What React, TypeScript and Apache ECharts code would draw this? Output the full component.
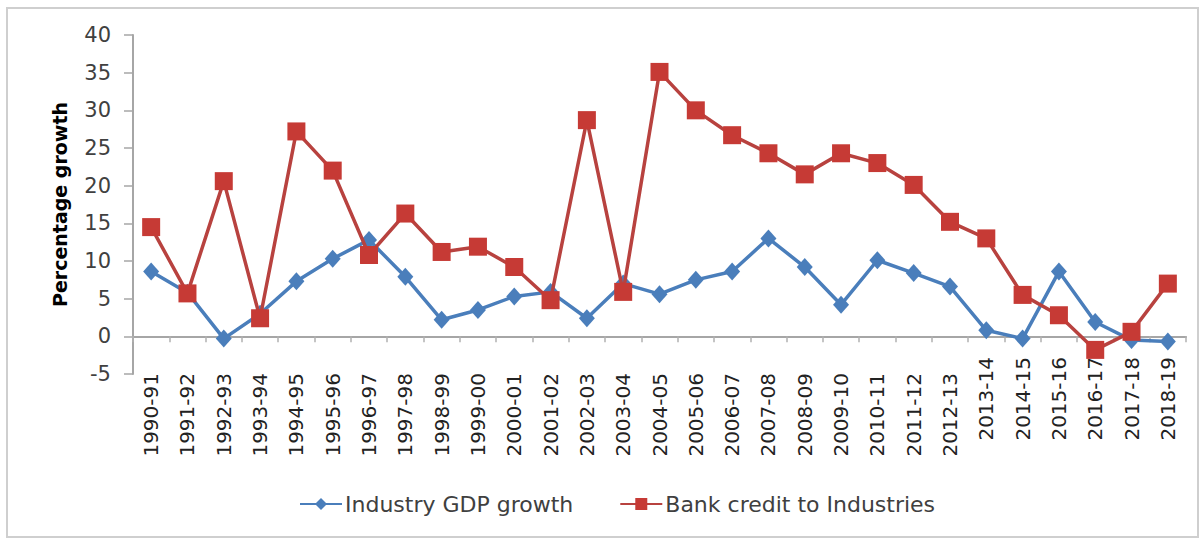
import React, { useEffect, useRef } from "react";
import * as echarts from "echarts";

const categories = [
  "1990-91", "1991-92", "1992-93", "1993-94", "1994-95", "1995-96", "1996-97",
  "1997-98", "1998-99", "1999-00", "2000-01", "2001-02", "2002-03", "2003-04",
  "2004-05", "2005-06", "2006-07", "2007-08", "2008-09", "2009-10", "2010-11",
  "2011-12", "2012-13", "2013-14", "2014-15", "2015-16", "2016-17", "2017-18",
  "2018-19",
];

const industryGdpGrowth = [
  8.6, 5.8, -0.3, 3.0, 7.3, 10.3, 12.8, 7.9, 2.2, 3.5, 5.3, 5.9, 2.4, 7.0,
  5.6, 7.5, 8.6, 13.0, 9.2, 4.2, 10.1, 8.4, 6.6, 0.8, -0.3, 8.6, 1.9, -0.5,
  -0.7,
];

const bankCreditToIndustries = [
  14.5, 5.7, 20.6, 2.4, 27.2, 22.0, 10.8, 16.3, 11.2, 11.9, 9.2, 4.8, 28.7,
  5.9, 35.1, 30.0, 26.7, 24.3, 21.5, 24.3, 23.0, 20.1, 15.2, 13.0, 5.5, 2.8,
  -1.8, 0.6, 7.0,
];

const yTicks = { min: -5, max: 40, interval: 5 };

export default function App() {
  const ref = useRef<HTMLDivElement>(null);
  useEffect(() => {
    if (!ref.current) return;
    const chart = echarts.init(ref.current, null, { renderer: "svg" });
    const font = "DejaVu Sans";
    chart.setOption({
      animation: false,
      backgroundColor: "#ffffff",
      graphic: [
        {
          type: "rect",
          shape: { x: 7, y: 8, width: 1191, height: 529 },
          style: { fill: "none", stroke: "#cfcfcf", lineWidth: 2 },
          silent: true,
        },
      ],
      grid: { left: 133, right: 18, top: 35, bottom: 165 },
      legend: {
        left: 294,
        top: 488,
        itemWidth: 42,
        itemHeight: 15,
        itemGap: 46,
        textStyle: { fontFamily: font, fontSize: 22, color: "#404040", padding: [0, 0, 0, -2] },
        data: ["Industry GDP growth", "Bank credit to Industries"],
      },
      xAxis: {
        type: "category",
        data: categories,
        boundaryGap: true,
        axisLine: { onZero: true, lineStyle: { color: "#a6a6a6", width: 2 } },
        axisTick: { show: true, length: 6, alignWithLabel: false, lineStyle: { color: "#b0b0b0", width: 1.5 } },
        axisLabel: {
          interval: 0,
          rotate: 90,
          margin: -17,
          formatter: (v: string, i: number) => (i >= 23 ? `{a|${v}}` : `{b|${v}}`),
          rich: {
            a: { fontFamily: font, fontSize: 20, color: "#222" },
            b: { fontFamily: font, fontSize: 20, color: "#222", padding: [0, 16, 0, 0] },
          },
        },
        splitLine: { show: false },
      },
      yAxis: {
        type: "value",
        min: yTicks.min,
        max: yTicks.max,
        interval: yTicks.interval,
        name: "Percentage growth",
        nameLocation: "middle",
        nameRotate: 90,
        nameGap: 64,
        nameTextStyle: { fontFamily: font, fontSize: 19, fontWeight: "bold", color: "#000" },
        axisLine: { show: true, lineStyle: { color: "#a6a6a6", width: 2 } },
        axisTick: { show: true, length: 9, lineStyle: { color: "#a6a6a6", width: 1.5 } },
        axisLabel: { fontFamily: font, fontSize: 21, color: "#404040", margin: 22 },
        splitLine: { show: false },
      },
      series: [
        {
          name: "Industry GDP growth",
          type: "line",
          data: industryGdpGrowth,
          symbol: "diamond",
          symbolSize: [16, 18],
          itemStyle: { color: "#4a7ebb" },
          lineStyle: { color: "#4a7ebb", width: 3.5 },
          z: 2,
        },
        {
          name: "Bank credit to Industries",
          type: "line",
          data: bankCreditToIndustries,
          symbol: "rect",
          symbolSize: [18, 18],
          itemStyle: { color: "#c63a35" },
          lineStyle: { color: "#b8423f", width: 3.5 },
          z: 3,
        },
      ],
    });
    return () => chart.dispose();
  }, []);
  return (
    <div
      ref={ref}
      style={{ position: "absolute", left: 0, top: 0, width: 1204, height: 539 }}
    />
  );
}
